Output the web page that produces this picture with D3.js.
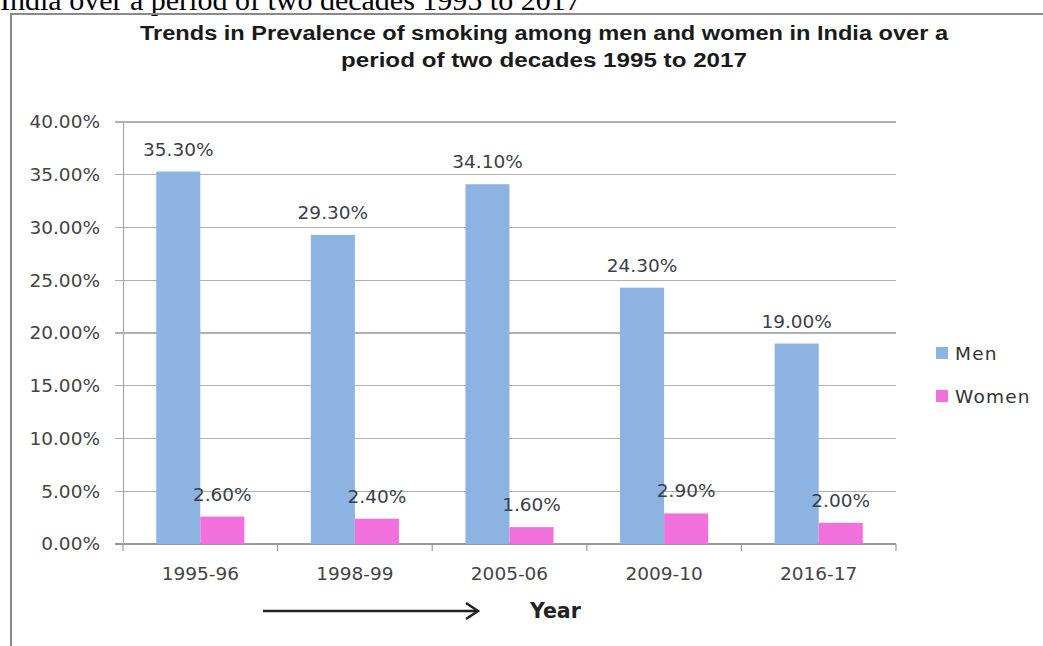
<!DOCTYPE html>
<html>
<head>
<meta charset="utf-8">
<script src="https://cdn.jsdelivr.net/npm/d3@7/dist/d3.min.js"></script>
<style>
  html, body { margin: 0; padding: 0; background: #fff; }
  svg { display: block; }
  text { font-family: "DejaVu Sans", sans-serif; }
</style>
</head>
<body>
<svg id="chart" width="1043" height="646"></svg>
<script>
// Survey rounds and smoking prevalence (%) for each sex
const years = ["1995-96", "1998-99", "2005-06", "2009-10", "2016-17"];
const men = [35.3, 29.3, 34.1, 24.3, 19.0];
const women = [2.6, 2.4, 1.6, 2.9, 2.0];
const seriesNames = ["Men", "Women"];
const yTicks = [0, 5, 10, 15, 20, 25, 30, 35, 40];

const colors = { Men: "#8db3e2", Women: "#f270dc" };
const svg = d3.select("#chart");

// Caption line above the framed chart (partly clipped by the top edge)
svg.append("text")
  .attr("x", 0).attr("y", 10)
  .style("font-family", "'Liberation Serif', 'Times New Roman', serif")
  .style("font-size", "30px")
  .attr("fill", "#000")
  .text("India over a period of two decades 1995 to 2017");

// Chart frame
svg.append("path")
  .attr("d", "M11,646 L11,14 L1043,14")
  .attr("fill", "none")
  .attr("stroke", "#8a8a8a")
  .attr("stroke-width", 2);

// Title
const titleLines = [
  { t: "Trends in Prevalence of smoking among men and women in India over a", y: 40, w: 808 },
  { t: "period of two decades 1995 to 2017", y: 67, w: 406 }
];
svg.selectAll("text.title").data(titleLines).join("text")
  .attr("class", "title")
  .attr("x", 544).attr("y", d => d.y)
  .attr("text-anchor", "middle")
  .attr("textLength", d => d.w)
  .attr("lengthAdjust", "spacingAndGlyphs")
  .style("font-family", "'Liberation Sans', Arial, sans-serif")
  .style("font-weight", "bold")
  .style("font-size", "20px")
  .attr("fill", "#1a1a1a")
  .text(d => d.t);

// Scales
const plot = { left: 123, right: 896, top: 122, bottom: 544 };
const x0 = d3.scaleBand().domain(years)
  .range([plot.left, plot.right])
  .paddingInner(0.43).paddingOuter(0.215);
const x1 = d3.scaleBand().domain(seriesNames).range([0, x0.bandwidth()]);
const y = d3.scaleLinear().domain([0, 40]).range([plot.bottom, plot.top]);

// Gridlines
svg.append("g").selectAll("line").data(yTicks).join("line")
  .attr("x1", plot.left - 8).attr("x2", plot.right)
  .attr("y1", d => y(d)).attr("y2", d => y(d))
  .attr("stroke", d => d === 0 ? "#9a9a9a" : "#b0b0b0")
  .attr("stroke-width", 1.2)
  .attr("shape-rendering", "crispEdges");

// Y axis
const yAxis = d3.axisLeft(y).tickValues(yTicks)
  .tickFormat(d => d3.format(".2f")(d) + "%")
  .tickSize(0).tickPadding(23);
const gy = svg.append("g").attr("transform", `translate(${plot.left},0)`).call(yAxis);
gy.select(".domain").attr("stroke", "#a8a8a8").attr("stroke-width", 1.2);
gy.selectAll("text")
  .style("font-family", "'DejaVu Sans', sans-serif")
  .style("font-size", "18.5px")
  .attr("fill", "#444");

// X axis with tick marks at category boundaries
const gx = svg.append("g").attr("transform", `translate(0,${plot.bottom})`);
const bounds = years.map(c => x0(c) - x0.step() * x0.paddingInner() / 2);
bounds.push(plot.right);
gx.selectAll("line.tk").data(bounds).join("line")
  .attr("class", "tk")
  .attr("x1", d => d).attr("x2", d => d)
  .attr("y1", 0).attr("y2", 7)
  .attr("stroke", "#9a9a9a").attr("stroke-width", 1.2);
gx.selectAll("text").data(years).join("text")
  .attr("x", d => x0(d) + x0.bandwidth() / 2)
  .attr("y", 36)
  .attr("text-anchor", "middle")
  .style("font-size", "18.5px")
  .attr("fill", "#444")
  .text(d => d);

// Bars
const rows = years.map((yr, i) => ({ year: yr, values: [
  { key: "Men", v: men[i] }, { key: "Women", v: women[i] }
] }));
const groups = svg.append("g").selectAll("g").data(rows).join("g")
  .attr("transform", d => `translate(${x0(d.year)},0)`);
groups.selectAll("rect").data(d => d.values).join("rect")
  .attr("x", d => x1(d.key))
  .attr("width", x1.bandwidth())
  .attr("y", d => y(d.v))
  .attr("height", d => y(0) - y(d.v))
  .attr("fill", d => colors[d.key]);

// Value labels
groups.selectAll("text").data(d => d.values).join("text")
  .attr("x", d => x1(d.key) + x1.bandwidth() / 2)
  .attr("y", d => y(d.v) - 16)
  .attr("text-anchor", "middle")
  .style("font-size", "18.5px")
  .attr("fill", "#3b3f4a")
  .text(d => d3.format(".2f")(d.v) + "%");

// Legend
const legend = svg.append("g").selectAll("g").data(seriesNames).join("g")
  .attr("transform", (d, i) => `translate(936,${353 + i * 43})`);
legend.append("rect")
  .attr("x", 0).attr("y", -6).attr("width", 12).attr("height", 12)
  .attr("fill", d => colors[d]);
legend.append("text")
  .attr("x", 19).attr("y", 6.5)
  .style("font-size", "18.5px")
  .style("letter-spacing", "1.2px")
  .attr("fill", "#333")
  .text(d => d);

// Axis title with arrow
const arrow = svg.append("g").attr("stroke", "#222").attr("stroke-width", 2.5).attr("fill", "none");
arrow.append("line").attr("x1", 263).attr("y1", 611).attr("x2", 477).attr("y2", 611);
arrow.append("path").attr("d", "M466,603 L478,611 L466,619");
svg.append("text")
  .attr("x", 530).attr("y", 618)
  .style("font-weight", "bold")
  .style("font-size", "20.5px")
  .attr("fill", "#222")
  .text("Year");
</script>
</body>
</html>
